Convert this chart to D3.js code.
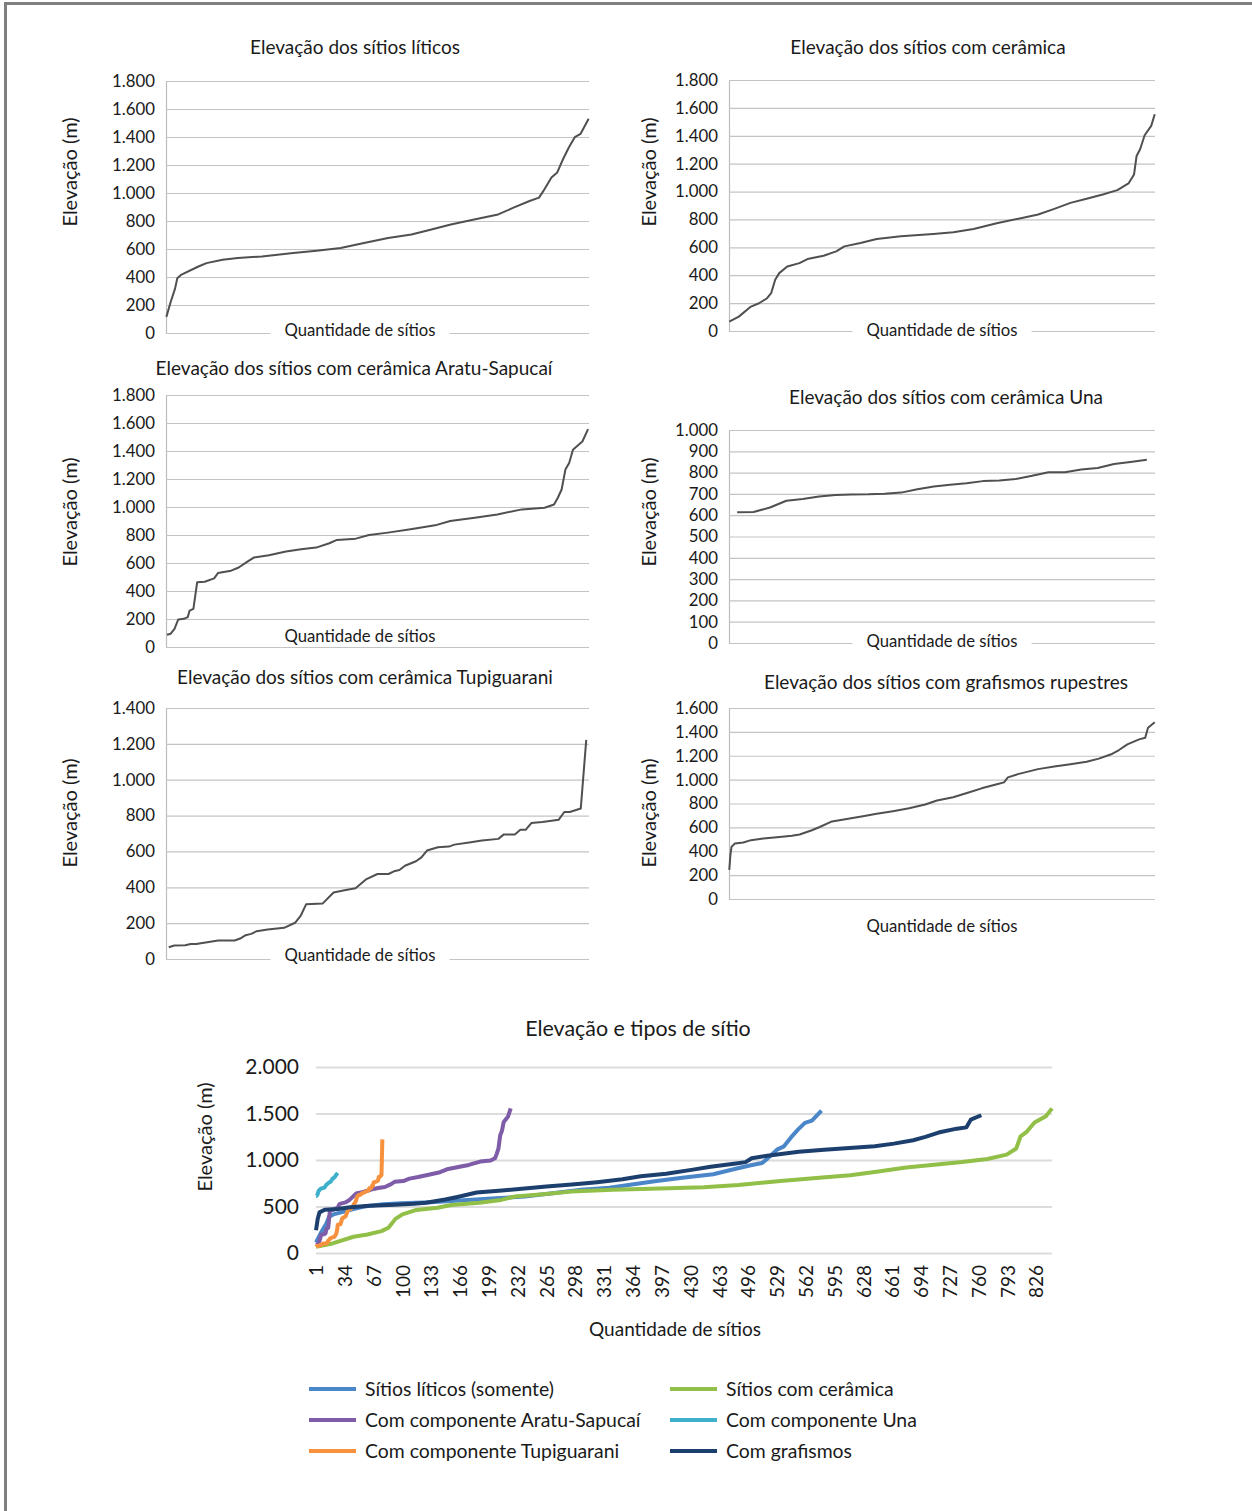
<!DOCTYPE html>
<html>
<head>
<meta charset="utf-8">
<script src="https://cdn.jsdelivr.net/npm/d3@7"></script>
<style>
body { margin: 0; background: #fff; }
svg { display: block; font-family: Lato, 'Open Sans', sans-serif; }
</style>
</head>
<body>
<div id="graph"></div>
<script>
// [posição do sítio, elevação em m]
var liticos = [[1,115],[7,223],[13,319],[16,391],[21,415],[45,475],[56,499],[78,523],[99,535],[132,547],[175,571],[207,588],[240,607],[272,643],[305,679],[337,703],[359,732],[391,775],[423,811],[456,847],[477,895],[499,943],[512,967],[518,1015],[529,1111],[537,1147],[545,1243],[553,1327],[561,1399],[569,1423],[580,1531]]

var ceramica = [[1,67],[20,103],[44,175],[60,199],[76,235],[84,271],[92,367],[100,415],[116,463],[140,487],[156,516],[188,540],[213,571],[229,607],[261,631],[293,660],[341,679],[405,696],[445,708],[485,732],[533,775],[581,811],[613,835],[645,876],[677,919],[709,948],[741,979],[770,1010],[792,1058],[803,1123],[808,1255],[815,1303],[824,1404],[837,1471],[844,1555]]

var aratu = [[1,88],[3,95],[5,130],[7,197],[10,201],[12,213],[13,260],[15,272],[16,367],[17,462],[21,466],[26,490],[28,528],[35,545],[39,568],[43,604],[47,639],[55,656],[64,682],[72,699],[80,710],[87,741],[91,765],[101,774],[108,800],[118,817],[130,841],[143,869],[151,900],[164,924],[176,947],[189,983],[201,995],[206,1018],[208,1066],[210,1125],[212,1267],[214,1314],[216,1409],[219,1444],[221,1468],[224,1556]]

var una = [[1,614],[2,615],[3,636],[4,668],[5,676],[6,688],[7,695],[8,697],[9,698],[10,701],[11,706],[12,722],[13,735],[14,743],[15,750],[16,760],[17,763],[18,770],[19,785],[20,802],[21,802],[22,815],[23,822],[24,840],[25,850],[26,860]]

var tupi = [[1,66],[2,75],[4,77],[5,84],[6,84],[8,94],[10,103],[13,103],[14,114],[15,133],[16,140],[17,155],[19,165],[22,174],[24,202],[25,240],[26,305],[29,309],[31,371],[33,384],[35,395],[37,446],[39,474],[41,474],[42,489],[43,496],[44,520],[46,545],[47,567],[48,605],[50,623],[52,627],[53,638],[56,651],[58,661],[61,670],[62,695],[64,695],[65,721],[66,721],[67,758],[69,764],[72,777],[73,820],[74,820],[76,839],[77,1222]]

var grafismos = [[1,244],[3,368],[5,437],[11,465],[26,473],[40,493],[62,507],[91,520],[113,529],[127,540],[149,576],[163,603],[185,650],[214,673],[243,695],[265,714],[294,736],[323,761],[352,792],[373,825],[402,853],[431,894],[453,927],[482,963],[493,977],[500,1019],[518,1046],[554,1088],[583,1110],[612,1129],[641,1149],[663,1176],[685,1212],[699,1248],[714,1295],[735,1337],[746,1351],[751,1434],[763,1481]]

var ticks1800 = [0, 200, 400, 600, 800, 1000, 1200, 1400, 1600, 1800]
var ticks1600 = [0, 200, 400, 600, 800, 1000, 1200, 1400, 1600]
var ticks1400 = [0, 200, 400, 600, 800, 1000, 1200, 1400]
var ticks1000 = [0, 100, 200, 300, 400, 500, 600, 700, 800, 900, 1000]
var ticksAll = [0, 500, 1000, 1500, 2000]
var xTicksAll = [1, 34, 67, 100, 133, 166, 199, 232, 265, 298, 331, 364, 397, 430, 463, 496, 529, 562, 595, 628, 661, 694, 727, 760, 793, 826]
var nAll = 844

var legendNames = ['Sítios líticos (somente)', 'Sítios com cerâmica', 'Com componente Aratu-Sapucaí', 'Com componente Una', 'Com componente Tupiguarani', 'Com grafismos']
var allSeries = [liticos, ceramica, aratu, una, tupi, grafismos]
var colors = ['#4a86c8', '#92bf48', '#7e5ca8', '#3fb0cc', '#f7913d', '#1d3f6e']

var fmt = d3.formatLocale({decimal: ',', thousands: '.', grouping: [3], currency: ['', '']}).format(',')

var W = 1252, H = 1511
var svg = d3.select('#graph').append('svg').attr('width', W).attr('height', H)

svg.append('path')
  .attr('d', 'M5.5,' + H + 'V3.5H' + W)
  .attr('fill', 'none').attr('stroke', '#808080').attr('stroke-width', 3)

var panels = [
  {title: 'Elevação dos sítios líticos', data: liticos, ticks: ticks1800,
   x0: 166, x1: 589, yT: 81, yB: 333, tx: 355, ty: 47, ax: 70, ay: 172, qx: 360, qy: 330, gap: true},
  {title: 'Elevação dos sítios com cerâmica', data: ceramica, ticks: ticks1800,
   x0: 729, x1: 1155, yT: 80, yB: 331, tx: 928, ty: 47, ax: 649, ay: 172, qx: 942, qy: 330, gap: true},
  {title: 'Elevação dos sítios com cerâmica Aratu-Sapucaí', data: aratu, ticks: ticks1800,
   x0: 166, x1: 589, yT: 395, yB: 647, tx: 354, ty: 368, ax: 70, ay: 512, qx: 360, qy: 636, gap: false},
  {title: 'Elevação dos sítios com cerâmica Una', data: una, ticks: ticks1000,
   x0: 729, x1: 1155, yT: 430, yB: 643, tx: 946, ty: 397, ax: 649, ay: 512, qx: 942, qy: 641, gap: true},
  {title: 'Elevação dos sítios com cerâmica Tupiguarani', data: tupi, ticks: ticks1400,
   x0: 166, x1: 589, yT: 708, yB: 959, tx: 365, ty: 677, ax: 70, ay: 813, qx: 360, qy: 955, gap: true},
  {title: 'Elevação dos sítios com grafismos rupestres', data: grafismos, ticks: ticks1600,
   x0: 729, x1: 1155, yT: 708, yB: 899, tx: 946, ty: 682, ax: 649, ay: 813, qx: 942, qy: 926, gap: false}
]

panels.forEach(function(p) {
  var g = svg.append('g')
  var n = d3.max(p.data, d => d[0])
  var x = d3.scaleLinear().domain([0.5, n + 0.5]).range([p.x0, p.x1])
  var y = d3.scaleLinear().domain(d3.extent(p.ticks)).range([p.yB, p.yT])

  var ax = g.append('g')
    .attr('transform', 'translate(' + p.x0 + ',0)')
    .call(d3.axisLeft(y).tickValues(p.ticks).tickFormat(fmt)
      .tickSizeInner(-(p.x1 - p.x0)).tickSizeOuter(0).tickPadding(11))
  ax.select('.domain').attr('stroke', '#bcbcbc').attr('stroke-width', 1.2)
  ax.selectAll('.tick line').attr('stroke', '#c4c4c4').attr('stroke-width', 1.2)
  ax.selectAll('.tick text').attr('font-size', 16.8).attr('fill', '#1a1a1a')
    .attr('font-family', 'Lato, sans-serif')

  var q = g.append('text')
    .text('Quantidade de sítios')
    .attr('x', p.qx).attr('y', p.qy).attr('dy', '0.35em')
    .attr('text-anchor', 'middle').attr('font-size', 16.7).attr('fill', '#1a1a1a')
  if (p.gap) {
    var bb = q.node().getBBox()
    g.insert('rect', () => q.node())
      .attr('x', bb.x - 14).attr('y', bb.y).attr('width', bb.width + 28).attr('height', bb.height)
      .attr('fill', '#fff')
  }

  g.append('path')
    .attr('d', d3.line().x(d => x(d[0])).y(d => y(d[1]))(p.data))
    .attr('fill', 'none').attr('stroke', '#505050').attr('stroke-width', 2)
    .attr('stroke-linejoin', 'round')

  g.append('text')
    .text(p.title)
    .attr('x', p.tx).attr('y', p.ty).attr('dy', '0.35em')
    .attr('text-anchor', 'middle').attr('font-size', 19).attr('fill', '#1a1a1a')

  g.append('text')
    .text('Elevação (m)')
    .attr('transform', 'translate(' + p.ax + ',' + p.ay + ') rotate(-90)')
    .attr('dy', '0.35em')
    .attr('text-anchor', 'middle').attr('font-size', 20).attr('fill', '#1a1a1a')
})

// gráfico combinado
var c = {x0: 316, x1: 1052, yT: 1067, yB: 1253}
var x = d3.scaleLinear().domain([1, nAll]).range([c.x0, c.x1])
var y = d3.scaleLinear().domain(d3.extent(ticksAll)).range([c.yB, c.yT])

var yAx = svg.append('g')
  .attr('transform', 'translate(' + c.x0 + ',0)')
  .call(d3.axisLeft(y).tickValues(ticksAll).tickFormat(fmt)
    .tickSizeInner(-(c.x1 - c.x0)).tickSizeOuter(0).tickPadding(17))
yAx.select('.domain').remove()
yAx.selectAll('.tick line').attr('stroke', '#dcdcdc').attr('stroke-width', 2)
yAx.selectAll('.tick text').attr('font-size', 21).attr('fill', '#1a1a1a')
  .attr('font-family', 'Lato, sans-serif')

var xAx = svg.append('g')
  .attr('transform', 'translate(0,' + (c.yB + 12) + ')')
  .call(d3.axisBottom(x).tickValues(xTicksAll).tickSize(0).tickPadding(0))
xAx.select('.domain').remove()
xAx.selectAll('.tick text')
  .attr('font-size', 19).attr('fill', '#1a1a1a').attr('font-family', 'Lato, sans-serif')
  .attr('transform', 'rotate(-90)')
  .attr('text-anchor', 'end').attr('x', 0).attr('y', 0).attr('dy', '0.35em')

var line = d3.line().x(d => x(d[0])).y(d => y(d[1]))
svg.append('g').selectAll('path')
  .data(allSeries).join('path')
  .attr('d', line)
  .attr('fill', 'none')
  .attr('stroke', (d, i) => colors[i])
  .attr('stroke-width', 4)
  .attr('stroke-linejoin', 'round')

svg.append('text')
  .text('Elevação e tipos de sítio')
  .attr('x', 638).attr('y', 1029).attr('dy', '0.35em')
  .attr('text-anchor', 'middle').attr('font-size', 21.4).attr('fill', '#1a1a1a')

svg.append('text')
  .text('Elevação (m)')
  .attr('transform', 'translate(205,1137) rotate(-90)').attr('dy', '0.35em')
  .attr('text-anchor', 'middle').attr('font-size', 20).attr('fill', '#1a1a1a')

svg.append('text')
  .text('Quantidade de sítios')
  .attr('x', 675).attr('y', 1329).attr('dy', '0.35em')
  .attr('text-anchor', 'middle').attr('font-size', 19).attr('fill', '#1a1a1a')

var leg = svg.append('g').selectAll('g')
  .data(legendNames).join('g')
  .attr('transform', (d, i) => 'translate(' + (i % 2 ? 670 : 309) + ',' + (1389 + Math.floor(i / 2) * 31) + ')')
leg.append('line')
  .attr('x2', 47)
  .attr('stroke', (d, i) => colors[i]).attr('stroke-width', 4)
leg.append('text')
  .text(d => d)
  .attr('x', 56).attr('dy', '0.35em')
  .attr('font-size', 19.4).attr('fill', '#1a1a1a')
</script>
</body>
</html>
